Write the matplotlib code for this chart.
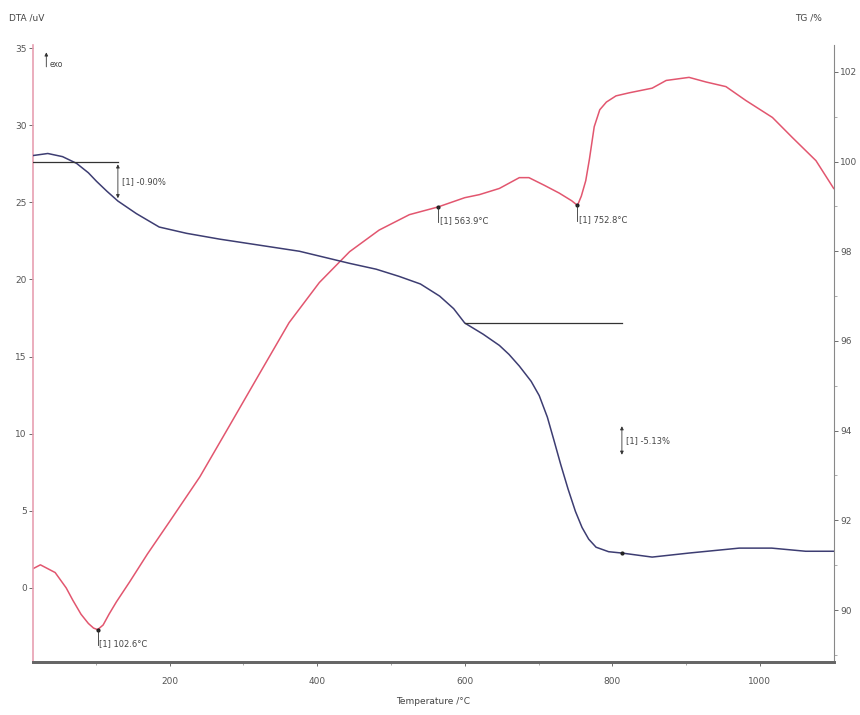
import matplotlib.pyplot as plt
import numpy as np

# DTA curve (uV)
dta_t = [13, 25, 45, 60, 69, 80, 90, 97, 102.6, 110, 118, 128, 146, 170, 200, 241, 281, 322,
         362, 403, 444, 484, 525, 563.9, 600, 620, 647, 674, 687, 708, 728, 745, 752.8, 758,
         764, 769, 775.5, 783, 792, 805, 823, 854, 873, 904, 927, 954, 981, 1017, 1044,
         1076, 1100]
dta_v = [1.2, 1.5, 1.0, 0.0, -0.8, -1.7, -2.3, -2.6, -2.7, -2.4, -1.7, -0.9, 0.4, 2.2, 4.3,
         7.2, 10.5, 13.9, 17.2, 19.8, 21.8, 23.2, 24.2, 24.7, 25.3, 25.5, 25.9, 26.6, 26.6,
         26.1, 25.6, 25.1, 24.8, 25.4, 26.4, 27.8, 29.9, 31.0, 31.5, 31.9, 32.1, 32.4, 32.9,
         33.1, 32.8, 32.5, 31.6, 30.5, 29.2, 27.7, 25.9]

# TG curve (%)
tg_t = [13, 35, 55, 74, 90, 101, 115, 130, 155, 186, 223, 268, 320, 376, 444, 480, 511,
        540, 566, 585, 600, 625, 647, 660, 674, 690, 701, 712, 721, 730, 740, 750, 759,
        768, 778, 795, 813, 854, 904, 972, 1016, 1062, 1100]
tg_v = [100.13, 100.18, 100.11, 99.96, 99.75, 99.56, 99.34, 99.12, 98.84, 98.54, 98.4,
        98.27, 98.14, 98.0, 97.73, 97.6, 97.44, 97.27, 97.0, 96.72, 96.4, 96.15, 95.9,
        95.7, 95.44, 95.1, 94.78, 94.3, 93.78, 93.25, 92.7, 92.2, 91.84, 91.58, 91.4,
        91.3, 91.27, 91.18, 91.27, 91.38, 91.38, 91.31, 91.31]

peaks_t = [102.6, 563.9, 752.8]
peaks_label = ['[1] 102.6°C', '[1] 563.9°C', '[1] 752.8°C']
steps = ['[1] -0.90%', '[1] -5.13%']

dta_col = '#e2566f'
tg_col = '#3d3d72'
fs = 6.5

fig = plt.figure(figsize=(8.6, 7.15), dpi=100, facecolor='white')
ax = fig.add_axes([0.0384, 0.0741, 0.931, 0.863])
ax2 = ax.twinx()

ax.plot(dta_t, dta_v, color=dta_col, lw=1.1)
ax2.plot(tg_t, tg_v, color=tg_col, lw=1.1)

ax.set_xlim(15, 1100)
ax.set_ylim(-4.8, 35.2)
ax2.set_ylim(88.84, 102.6)

ax.set_xticks([200, 400, 600, 800, 1000])
ax.set_xticks(np.arange(100, 1100, 100), minor=True)
ax.set_yticks([0, 5, 10, 15, 20, 25, 30, 35])
ax2.set_yticks([90, 92, 94, 96, 98, 100, 102])
ax2.set_yticks(np.arange(89, 103, 1), minor=True)

for a in (ax, ax2):
    a.tick_params(labelsize=fs, length=3, width=0.6, colors='#555555', pad=1.5)
    a.tick_params(which='minor', length=2, width=0.5, colors='#888888')
    a.spines['top'].set_visible(False)
ax.tick_params(axis='x', pad=8)
ax.spines['left'].set_color('#e8a0b2')
ax.spines['left'].set_linewidth(1.2)
ax.spines['right'].set_visible(False)
ax2.spines['left'].set_visible(False)
ax2.spines['right'].set_color('#888888')
ax2.spines['bottom'].set_color('#666666')
ax2.spines['bottom'].set_linewidth(2)
ax.spines['bottom'].set_color('#666666')
ax.spines['bottom'].set_linewidth(2)

ax.set_xlabel('Temperature /°C', fontsize=fs, color='#444444', labelpad=8)
fig.text(0.01, 0.972, 'DTA /uV', fontsize=fs, color='#444444')
fig.text(0.925, 0.972, 'TG /%', fontsize=fs, color='#444444')
ax.annotate('', xy=(33, 34.9), xytext=(33, 33.6),
            arrowprops=dict(arrowstyle='-|>', color='#333333', lw=0.6, mutation_scale=5))
ax.text(38, 33.8, 'exo', fontsize=fs - 1, color='#444444')

# DTA peak markers
for t, lab in zip(peaks_t, peaks_label):
    v = np.interp(t, dta_t, dta_v)
    ax.plot([t], [v], 'o', color='#222222', ms=2)
    ax.plot([t, t], [v, v - 1.0], color='#333333', lw=0.6)
    ax.text(t + 2, v - 0.6, lab, fontsize=fs - 0.5, color='#444444', va='top')

# TG step -0.90 %
ax2.plot([13, 130], [100.0, 100.0], color='#333333', lw=0.9)
ax2.annotate('', xy=(130, 99.12), xytext=(130, 100.0),
             arrowprops=dict(arrowstyle='<|-|>', color='#333333', lw=0.6, mutation_scale=5))
ax2.text(135, 99.55, steps[0], fontsize=fs - 0.5, color='#444444', va='center')

# TG step -5.13 %
ax2.plot([600, 813], [96.4, 96.4], color='#333333', lw=0.9)
ax2.plot([813], [91.27], 'o', color='#222222', ms=2)
ax2.annotate('', xy=(813, 93.4), xytext=(813, 94.16),
             arrowprops=dict(arrowstyle='<|-|>', color='#333333', lw=0.6, mutation_scale=5))
ax2.text(818, 93.78, steps[1], fontsize=fs - 0.5, color='#444444', va='center')

fig.savefig('out.png', dpi=100)
